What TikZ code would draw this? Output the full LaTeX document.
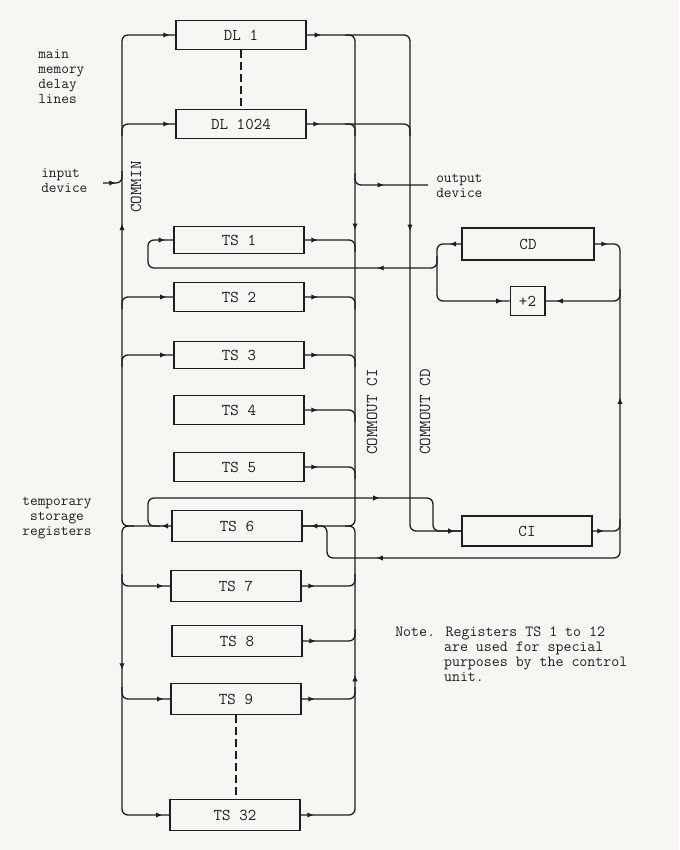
\documentclass[tikz,border=0pt]{standalone}
\usetikzlibrary{arrows.meta,decorations.markings}
\definecolor{paper}{RGB}{248,246,242}
\definecolor{ink}{RGB}{30,30,30}
\newcommand\ArF{\arrow{Latex[length=5pt,width=4pt]}}
\newcommand\ArB{\arrowreversed{Latex[length=5pt,width=4pt]}}
\begin{document}
\begin{tikzpicture}[x=0.75pt,y=-0.75pt,color=ink,
  font=\fontsize{12.4}{15}\selectfont\ttfamily,
  wire/.style={line width=1pt,rounded corners=4.5pt},
  regbox/.style={draw,line width=1pt,minimum width=97.5pt,minimum height=22pt,inner sep=0pt},
  arrs/.style={postaction={decorate,decoration={markings,#1}}},
  nlbl/.style={anchor=base west,inner sep=0pt,font=\fontsize{11.6}{13}\selectfont\ttfamily},
  slbl/.style={anchor=base west,inner sep=0pt,font=\fontsize{11.2}{13}\selectfont\ttfamily},
  sclbl/.style={anchor=base,inner sep=0pt,font=\fontsize{11.2}{13}\selectfont\ttfamily},
  dashline/.style={line width=0.9pt,dash pattern=on 6pt off 3pt},
]
\fill[paper] (0,0) rectangle (679,850);
\useasboundingbox (0,0) rectangle (679,850);

% boxes
\node[regbox] (DL1) at (241,35) {DL 1};
\node[regbox] (DL1024) at (241,124) {DL 1024};
\node[regbox,minimum height=20pt] (TS1) at (239,240) {TS 1};
\node[regbox] (TS2) at (239,297) {TS 2};
\node[regbox,minimum height=20pt] (TS3) at (239,355) {TS 3};
\node[regbox] (TS4) at (239,410) {TS 4};
\node[regbox] (TS5) at (239,467) {TS 5};
\node[regbox,minimum height=23pt] (TS6) at (237,526) {TS 6};
\node[regbox,minimum height=23.5pt] (TS7) at (236,586) {TS 7};
\node[regbox,minimum height=23.5pt] (TS8) at (237,641) {TS 8};
\node[regbox,minimum height=23.5pt] (TS9) at (236,699) {TS 9};
\node[regbox,minimum height=23pt] (TS32) at (235,815) {TS 32};
\node[regbox,minimum width=99pt,minimum height=24pt] (CD) at (528,244) {CD};
\node[regbox,minimum width=26pt,minimum height=21.5pt] (P2) at (527.5,301) {+2};
\node[regbox,minimum height=22.5pt] (CI) at (527,531) {CI};

% dashed continuations
\draw[dashline] (DL1.south) -- (DL1024.north);
\draw[dashline] (TS9.south) -- (TS9.south |- TS32.north);

% named free ends
\coordinate (inp) at (103,183);
\coordinate (outd) at (428,185);

% left bus, upper (COMMIN)
\draw[wire,arrs={mark=at position 7.5pt with {\ArF},mark=at position 262pt with {\ArF},mark=at position -4pt with {\ArF}}]
  (TS6.west) -- (122,526) -- (122,35) -- (DL1.west);
% left bus, lower
\draw[wire,arrs={mark=at position 115pt with {\ArF},mark=at position -5pt with {\ArF}}]
  (134,526) -- (122,526) -- (122,815) -- (TS32.west);
% branches from left bus
\draw[wire,arrs={mark=at position -4pt with {\ArF}}] (122,136) |- (DL1024.west);
\draw[wire,arrs={mark=at position -5pt with {\ArF}}] (122,309) |- (TS2.west);
\draw[wire,arrs={mark=at position -5pt with {\ArF}}] (122,367) |- (TS3.west);
\draw[wire,arrs={mark=at position -5pt with {\ArF}}] (122,574) |- (TS7.west);
\draw[wire,arrs={mark=at position -5pt with {\ArF}}] (122,687) |- (TS9.west);
% input device
\draw[wire,arrs={mark=at position 9.75pt with {\ArF}}] (inp) -- (122,183) -- (122,171);

% TS6 left loop to CI
\draw[wire,arrs={mark=at position 200pt with {\ArF},mark=at position -5pt with {\ArF}}]
  (160,526) -- (148,526) -- (148,498) -- (433,498) -- (433,531) -- (CI.west);

% COMMOUT CD
\draw[wire,arrs={mark=at position 11pt with {\ArF},mark=at position 222.75pt with {\ArF},mark=at position -5pt with {\ArF}}]
  (DL1.east) -- (410,35) -- (410,531) -- (CI.west);
% COMMOUT CI upper
\draw[wire,arrs={mark=at position 152pt with {\ArF},mark=at position -6pt with {\ArF}}]
  (345,35) -- (355,35) -- (355,526) -- (TS6.east);
% COMMOUT CI lower
\draw[wire,arrs={mark=at position 117pt with {\ArB},mark=at position -10pt with {\ArB}}]
  (345,526) -- (355,526) -- (355,815) -- (TS32.east);
% DL1024 output
\draw[wire,arrs={mark=at position 10pt with {\ArF}}] (DL1024.east) -- (410,124) -- (410,136);
\draw[wire] (345,124) -- (355,124) -- (355,136);
% output device
\draw[wire,arrs={mark=at position 29pt with {\ArF}}] (355,173) -- (355,185) -- (outd);

% TS outputs into COMMOUT CI
\draw[wire,arrs={mark=at position 10pt with {\ArF}}] (TS1.east) -- (355,240) -- (355,252);
\draw[wire,arrs={mark=at position 10pt with {\ArF}}] (TS2.east) -- (355,297) -- (355,309);
\draw[wire,arrs={mark=at position 10pt with {\ArF}}] (TS3.east) -- (355,355) -- (355,367);
\draw[wire,arrs={mark=at position 10pt with {\ArF}}] (TS4.east) -- (355,410) -- (355,422);
\draw[wire,arrs={mark=at position 10pt with {\ArF}}] (TS5.east) -- (355,467) -- (355,479);
\draw[wire,arrs={mark=at position 10pt with {\ArF}}] (TS7.east) -- (355,586) -- (355,574);
\draw[wire,arrs={mark=at position 10pt with {\ArF}}] (TS8.east) -- (355,641) -- (355,629);
\draw[wire,arrs={mark=at position 10pt with {\ArF}}] (TS9.east) -- (355,699) -- (355,687);

% CD left junction, +2 input and TS1 loop
\draw[wire,arrs={mark=at position 9pt with {\ArF},mark=at position -5pt with {\ArF}}]
  (CD.west) -- (437,244) -- (437,301) -- (P2.west);
\draw[wire,arrs={mark=at position 52pt with {\ArF},mark=at position -6pt with {\ArF}}]
  (437,256) -- (437,268) -- (148,268) -- (148,240) -- (TS1.west);

% right loop
\draw[wire,arrs={mark=at position 10pt with {\ArF},mark=at position 132pt with {\ArB},mark=at position 433.5pt with {\ArF}}]
  (CD.east) -- (620,244) -- (620,558) -- (327,558) -- (327,526) -- (TS6.east);
\draw[wire,arrs={mark=at position 8pt with {\ArB}}] (P2.east) -- (620,301) -- (620,289);
\draw[wire,arrs={mark=at position 8.5pt with {\ArF}}] (CI.east) -- (620,531) -- (620,519);

% labels
\node[slbl] at (38,58) {main};
\node[slbl] at (38,73) {memory};
\node[slbl] at (38,88) {delay};
\node[slbl] at (38,103) {lines};
\node[slbl] at (41,177) {input};
\node[slbl] at (41,192) {device};
\node[sclbl] at (57,505) {temporary};
\node[sclbl] at (57,520) {storage};
\node[sclbl] at (57,535) {registers};
\node[slbl] at (436,182) {output};
\node[slbl] at (436,197) {device};
\node[rotate=90,inner sep=0pt] (commin) at (136,187) {COMMIN};
\node[rotate=90,inner sep=0pt] (cci) at (372,412) {COMMOUT CI};
\node[rotate=90,inner sep=0pt] (ccd) at (425,412) {COMMOUT CD};
\node[nlbl] at (395,636) {Note. Registers TS 1 to 12};
\node[nlbl] at (443.8,651) {are used for special};
\node[nlbl] at (443.8,666) {purposes by the control};
\node[nlbl] at (443.8,681) {unit.};
\end{tikzpicture}
\end{document}
